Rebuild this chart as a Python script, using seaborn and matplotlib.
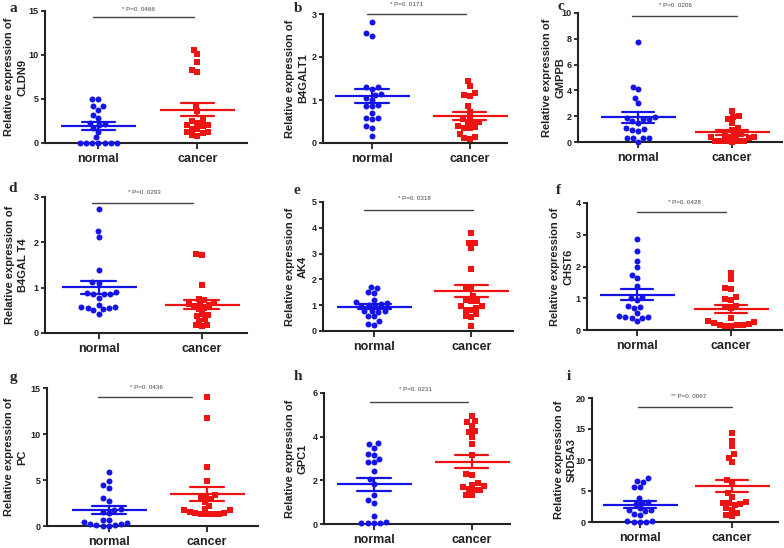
import numpy as np
import pandas as pd
import matplotlib
matplotlib.use("Agg")
import matplotlib.pyplot as plt
import seaborn as sns

# ---------------- data ----------------
groups = ["normal", "cancer"]
genes = ["CLDN9", "B4GALT1", "GMPPB", "B4GAL T4", "AK4", "CHST6", "PC", "GPC1", "SRD5A3"]
panel_letters = ["a", "b", "c", "d", "e", "f", "g", "h", "i"]
p_labels = ["* P=0. 0466", "* P=0. 0171", "* P=0. 0206", "* P=0. 0293", "* P=0. 0318",
            "* P=0. 0428", "* P=0. 0436", "* P=0. 0231", "** P=0. 0067"]
y_ticks = [[0, 5, 10, 15], [0, 1, 2, 3], [0, 2, 4, 6, 8, 10], [0, 1, 2, 3], [0, 1, 2, 3, 4, 5],
           [0, 1, 2, 3, 4], [0, 5, 10, 15], [0, 2, 4, 6], [0, 5, 10, 15, 20]]

cldn9_normal = [5.05, 4.95, 4.2, 4.15, 3.75, 3.2, 2.8, 2.3, 2.2, 2.0, 1.7, 1.3, 0.65,
                0.05, 0.05, 0.05, 0.05, 0.05, 0.05, 0.05]
cldn9_cancer = [10.6, 10.1, 9.2, 8.3, 8.1, 4.2, 3.6, 2.6, 2.5, 2.3, 2.1, 2.0, 1.9, 1.6,
                1.6, 1.2, 1.2, 1.1, 0.9, 0.8]
b4galt1_normal = [2.81, 2.55, 2.49, 1.3, 1.3, 1.25, 1.15, 1.12, 1.05, 1.0, 0.88, 0.85,
                  0.85, 0.7, 0.58, 0.58, 0.55, 0.4, 0.35, 0.16]
b4galt1_cancer = [1.45, 1.33, 1.16, 1.12, 1.1, 0.85, 0.73, 0.6, 0.55, 0.5, 0.48, 0.47,
                  0.4, 0.38, 0.36, 0.35, 0.2, 0.15, 0.12, 0.09]
gmppb_normal = [7.75, 4.3, 4.1, 3.4, 3.0, 1.9, 1.85, 1.8, 1.8, 1.6, 1.5, 1.1, 1.0, 0.9,
                0.85, 0.3, 0.3, 0.3, 0.28, 0.0]
gmppb_cancer = [2.4, 2.05, 1.9, 1.75, 1.45, 1.05, 0.9, 0.65, 0.55, 0.4, 0.38, 0.35, 0.5,
                0.3, 0.05, 0.05, 0.05, 0.05, 0.05, 0.0]
b4galt4_normal = [2.74, 2.24, 2.11, 1.39, 1.12, 1.1, 0.9, 0.88, 0.87, 0.86, 0.85, 0.78,
                  0.62, 0.58, 0.57, 0.56, 0.55, 0.52, 0.5, 0.43]
b4galt4_cancer = [1.74, 1.73, 1.05, 0.76, 0.73, 0.68, 0.65, 0.64, 0.62, 0.6, 0.55, 0.52,
                  0.42, 0.4, 0.38, 0.3, 0.27, 0.18, 0.17, 0.16]
ak4_normal = [1.72, 1.68, 1.5, 1.47, 1.2, 1.12, 1.08, 1.05, 1.0, 0.97, 0.95, 0.78, 0.77,
              0.76, 0.75, 0.58, 0.57, 0.4, 0.27, 0.25]
ak4_cancer = [3.8, 3.43, 3.42, 3.22, 2.42, 1.72, 1.68, 1.35, 1.2, 1.18, 1.15, 0.98, 0.95,
              0.9, 0.82, 0.8, 0.66, 0.6, 0.56, 0.2]
chst6_normal = [2.88, 2.5, 2.17, 1.97, 1.74, 1.63, 1.4, 1.05, 1.0, 0.95, 0.75, 0.72, 0.7,
                0.53, 0.45, 0.42, 0.4, 0.38, 0.38, 0.28]
chst6_cancer = [1.78, 1.6, 1.33, 1.3, 1.05, 0.97, 0.95, 0.75, 0.72, 0.68, 0.37, 0.27,
                0.26, 0.22, 0.18, 0.16, 0.15, 0.15, 0.14, 0.13]
pc_normal = [5.9, 4.85, 4.45, 4.15, 3.0, 2.75, 1.8, 1.7, 1.55, 1.4, 0.7, 0.65, 0.45, 0.35,
             0.25, 0.2, 0.15, 0.1, 0.05, 0.0]
pc_cancer = [14.0, 11.7, 6.4, 4.85, 3.35, 3.3, 3.0, 2.9, 2.65, 2.2, 1.85, 1.75, 1.7, 1.55,
             1.45, 1.4, 1.35, 1.35, 1.3, 1.3]
gpc1_normal = [3.72, 3.68, 3.5, 3.2, 3.18, 3.0, 2.85, 2.83, 2.42, 2.05, 1.85, 1.35, 1.1,
               0.98, 0.35, 0.07, 0.06, 0.05, 0.04, 0.03]
gpc1_cancer = [4.95, 4.7, 4.65, 4.5, 4.25, 4.2, 3.98, 3.68, 3.15, 2.3, 2.25, 1.88, 1.8,
               1.75, 1.7, 1.6, 1.57, 1.55, 1.35, 1.32]
srd5a3_normal = [7.1, 6.6, 6.5, 5.7, 5.65, 3.9, 3.3, 3.1, 2.9, 2.2, 2.0, 1.95, 1.7, 1.3,
                 1.2, 0.15, 0.1, 0.08, 0.06, 0.05]
srd5a3_cancer = [14.3, 13.1, 12.2, 10.9, 10.4, 9.6, 6.8, 6.4, 4.6, 4.0, 3.2, 3.0, 2.9, 3.0,
                 2.8, 2.2, 2.0, 1.5, 1.2, 1.0]

normal_sets = [cldn9_normal, b4galt1_normal, gmppb_normal, b4galt4_normal, ak4_normal,
               chst6_normal, pc_normal, gpc1_normal, srd5a3_normal]
cancer_sets = [cldn9_cancer, b4galt1_cancer, gmppb_cancer, b4galt4_cancer, ak4_cancer,
               chst6_cancer, pc_cancer, gpc1_cancer, srd5a3_cancer]

# ---------------- layout (pixels) ----------------
W, H = 784, 548
boxes = [(45, 247, 11, 143), (323, 507, 14, 143), (578, 782, 13, 142),
         (45, 247, 197, 333), (323, 513, 202, 331), (587, 782, 203, 330),
         (47, 258, 388, 526), (324, 510, 393, 524), (592, 778, 398, 522)]
xlims = [(-0.54, 1.5), (-0.5, 1.38), (-0.64, 1.53), (-0.52, 1.44), (-0.53, 1.43),
         (-0.53, 1.54), (-0.63, 1.52), (-0.51, 1.39), (-0.52, 1.5)]
label_off = [-18, -15, -13, -17, -15, -14, -20, -16, -15]
sig_x = [(-0.06, 0.96), (-0.05, 0.96), (-0.07, 1.05), (-0.06, 0.92), (-0.11, 1.02),
         (0.0, 0.95), (-0.11, 0.85), (-0.04, 0.96), (-0.02, 1.0)]
sig_y = [14.3, 3.0, 9.77, 2.87, 4.69, 3.72, 14.0, 5.6, 18.5]
txt_pos = [(0.40, 15.2), (0.35, 3.21), (0.40, 10.6), (0.44, 3.11), (0.41, 5.12),
           (0.50, 4.0), (0.38, 15.1), (0.42, 6.15), (0.53, 20.2)]
letter_pos = [(13, 8), (298, 8), (561, 6), (13, 188), (297, 190), (558, 190),
              (13, 377), (298, 377), (569, 377)]

BLUE = "#1414e6"
RED = "#ee1414"

sns.set_style("ticks")
plt.rcParams["font.family"] = ["Liberation Sans", "DejaVu Sans"]

fig = plt.figure(figsize=(W / 100, H / 100), dpi=100)

for k in range(9):
    x0, x1, yt, yb = boxes[k]
    ax = fig.add_axes([x0 / W, 1 - yb / H, (x1 - x0) / W, (yb - yt) / H])
    n_vals, c_vals = normal_sets[k], cancer_sets[k]
    df = pd.DataFrame({"group": ["normal"] * len(n_vals) + ["cancer"] * len(c_vals),
                       "value": n_vals + c_vals})
    sns.swarmplot(data=df[df.group == "normal"], x="group", y="value", order=groups,
                  color=BLUE, marker="o", size=4.3, linewidth=0, ax=ax, clip_on=False)
    sns.swarmplot(data=df[df.group == "cancer"], x="group", y="value", order=groups,
                  color=RED, marker="s", size=4.0, linewidth=0, ax=ax, clip_on=False)
    sns.pointplot(data=df, x="group", y="value", hue="group", order=groups,
                  hue_order=groups, palette=[BLUE, RED], errorbar="se", capsize=0.34,
                  marker="_", markersize=54, markeredgewidth=1.6, linestyle="none",
                  err_kws={"linewidth": 1.6}, legend=False, ax=ax)
    ticks = y_ticks[k]
    ax.set_ylim(0, ticks[-1])
    ax.set_yticks(ticks)
    ax.set_xlim(*xlims[k])
    ax.set_xlabel("")
    sns.despine(ax=ax)
    for s in ["left", "bottom"]:
        ax.spines[s].set_linewidth(1.5)
        ax.spines[s].set_color("#222222")
    ax.tick_params(axis="y", length=3, width=1.3, labelsize=6.5, pad=1.5, colors="#222222")
    ax.tick_params(axis="x", length=4, width=1.3, labelsize=9, pad=3, colors="#222222")
    for lbl in ax.get_xticklabels() + ax.get_yticklabels():
        lbl.set_fontweight("bold")
    ax.set_ylabel("Relative expression of\n" + genes[k], fontsize=8, fontweight="bold",
                  linespacing=1.35, color="#222222")
    ax.yaxis.set_label_coords(label_off[k] / (x1 - x0), 0.5)
    ax.plot(list(sig_x[k]), [sig_y[k], sig_y[k]], color="#444444", lw=1.0, clip_on=False)
    ax.text(txt_pos[k][0], txt_pos[k][1], p_labels[k], fontsize=4.5, ha="center",
            va="center", color="#444444", clip_on=False)
    lx, ly = letter_pos[k]
    fig.text(lx / W, 1 - ly / H, panel_letters[k], fontsize=11, fontweight="bold",
             family="Liberation Serif", ha="center", va="center")

fig.savefig("out.png", dpi=100, facecolor="white")
